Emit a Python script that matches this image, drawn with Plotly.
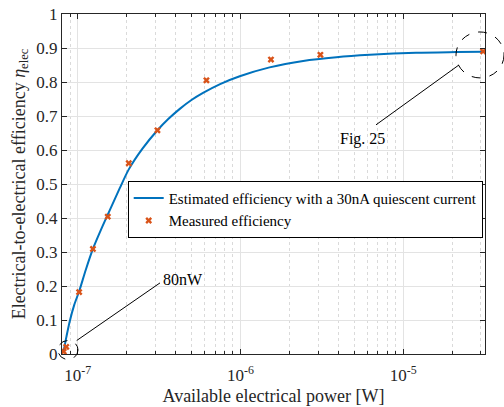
import plotly.graph_objects as go

# Measured efficiency (available power [W], efficiency)
meas_power = [8.2e-8, 8.5e-8, 1.02e-7, 1.24e-7, 1.53e-7, 2.06e-7, 3.09e-7,
              6.18e-7, 1.54e-6, 3.1e-6, 3.1e-5]
meas_eff = [0.007, 0.021, 0.182, 0.309, 0.404, 0.561, 0.658,
            0.805, 0.866, 0.880, 0.890]

# Estimated efficiency curve
est_power = [8.2e-8, 8.5e-8, 8.92e-8, 9.5e-8, 1.023e-7, 1.12e-7, 1.24e-7, 1.38e-7,
             1.53e-7, 1.81e-7, 2.06e-7, 2.5e-7, 3.09e-7, 3.6e-7, 4.24e-7, 5.0e-7,
             5.89e-7, 7.5e-7, 9.9e-7, 1.51e-6, 2.43e-6, 3.89e-6, 6.24e-6, 1.2e-5,
             2.13e-5, 3.1e-5]
est_eff = [0.01, 0.048, 0.095, 0.143, 0.186, 0.247, 0.309, 0.362,
           0.41, 0.487, 0.543, 0.604, 0.658, 0.691, 0.721, 0.747,
           0.768, 0.794, 0.817, 0.843, 0.862, 0.873, 0.880, 0.886,
           0.888, 0.889]

major_x = [1e-7, 1e-6, 1e-5]
major_x_text = ["10<sup>-7</sup>", "10<sup>-6</sup>", "10<sup>-5</sup>"]
minor_x = [9e-8] + [m * 1e-7 for m in range(2, 10)] + [m * 1e-6 for m in range(2, 10)] + [m * 1e-5 for m in range(2, 4)]

FONT = "Liberation Serif, Times New Roman, serif"
AX = "#262626"

fig = go.Figure()
fig.add_trace(go.Scatter(
    x=est_power, y=est_eff, mode="lines",
    line=dict(color="#0072BD", width=2, shape="spline", smoothing=0.8),
    name="Estimated efficiency with a 30nA quiescent current"))
fig.add_trace(go.Scatter(
    x=meas_power, y=meas_eff, mode="markers",
    marker=dict(symbol="x", size=6, color="#D95319"),
    name="Measured efficiency"))

L, R, T, B = 62, 19, 14, 52.5
W, H = 504, 407
pw, ph = W - L - R, H - T - B

def px(x):
    return (x - L) / pw

def py(y):
    return (H - B - y) / ph

shapes = []
# dashed circles
for cx, cy, rx, ry in [(68, 350.5, 10, 9.5), (480, 55, 24, 23)]:
    shapes.append(dict(type="circle", xref="paper", yref="paper",
                       x0=px(cx - rx), x1=px(cx + rx), y0=py(cy + ry), y1=py(cy - ry),
                       line=dict(color="black", width=1, dash="dash")))
# leader lines
for x0, y0, x1, y1 in [(76.7, 341, 160, 283.3), (459, 65, 376, 125)]:
    shapes.append(dict(type="line", xref="paper", yref="paper",
                       x0=px(x0), y0=py(y0), x1=px(x1), y1=py(y1),
                       line=dict(color="black", width=1)))

annotations = [
    dict(text="80nW", xref="paper", yref="paper", x=px(183), y=py(280),
         xanchor="center", yanchor="middle",
         showarrow=False, font=dict(family=FONT, size=16, color="black")),
    dict(text="Fig. 25", xref="paper", yref="paper", x=px(362), y=py(139),
         xanchor="center", yanchor="middle",
         showarrow=False, font=dict(family=FONT, size=16, color="black")),
]

fig.update_layout(
    width=W, height=H,
    margin=dict(l=L, r=R, t=T, b=B),
    paper_bgcolor="white", plot_bgcolor="white",
    font=dict(family=FONT, size=17, color=AX),
    shapes=shapes, annotations=annotations,
    legend=dict(x=px(482.7), y=py(181), xanchor="right", yanchor="top",
                bgcolor="white", bordercolor="black", borderwidth=1,
                font=dict(family=FONT, size=15, color="black"),
                tracegroupgap=0, itemwidth=30),
    showlegend=True,
)
fig.update_xaxes(
    type="log", range=[-7.0966, -4.497], automargin=False,
    tickvals=major_x, ticktext=major_x_text,
    ticks="inside", ticklen=5, tickcolor=AX,
    showline=True, linecolor=AX, linewidth=1, mirror="ticks",
    showgrid=True, gridcolor="#e3e3e3", gridwidth=1,
    minor=dict(tickvals=minor_x, ticks="inside", ticklen=3, tickcolor=AX,
               showgrid=True, gridcolor="#dadada", griddash="dot", gridwidth=1),
    zeroline=False, ticklabelstandoff=6,
    title=dict(text="Available electrical power [W]", font=dict(family=FONT, size=18, color=AX), standoff=4),
    tickfont=dict(family=FONT, size=17, color=AX),
)
fig.update_yaxes(
    range=[0, 1], dtick=0.1, tick0=0, automargin=False,
    ticks="inside", ticklen=5, tickcolor=AX,
    showline=True, linecolor=AX, linewidth=1, mirror="ticks",
    showgrid=True, gridcolor="#e3e3e3", gridwidth=1,
    zeroline=False,
    title=dict(text="Electrical-to-electrical efficiency <i>η</i><sub>elec</sub>",
               font=dict(family=FONT, size=18, color=AX), standoff=6),
    tickfont=dict(family=FONT, size=17, color=AX),
)

fig.write_html("out.html")
